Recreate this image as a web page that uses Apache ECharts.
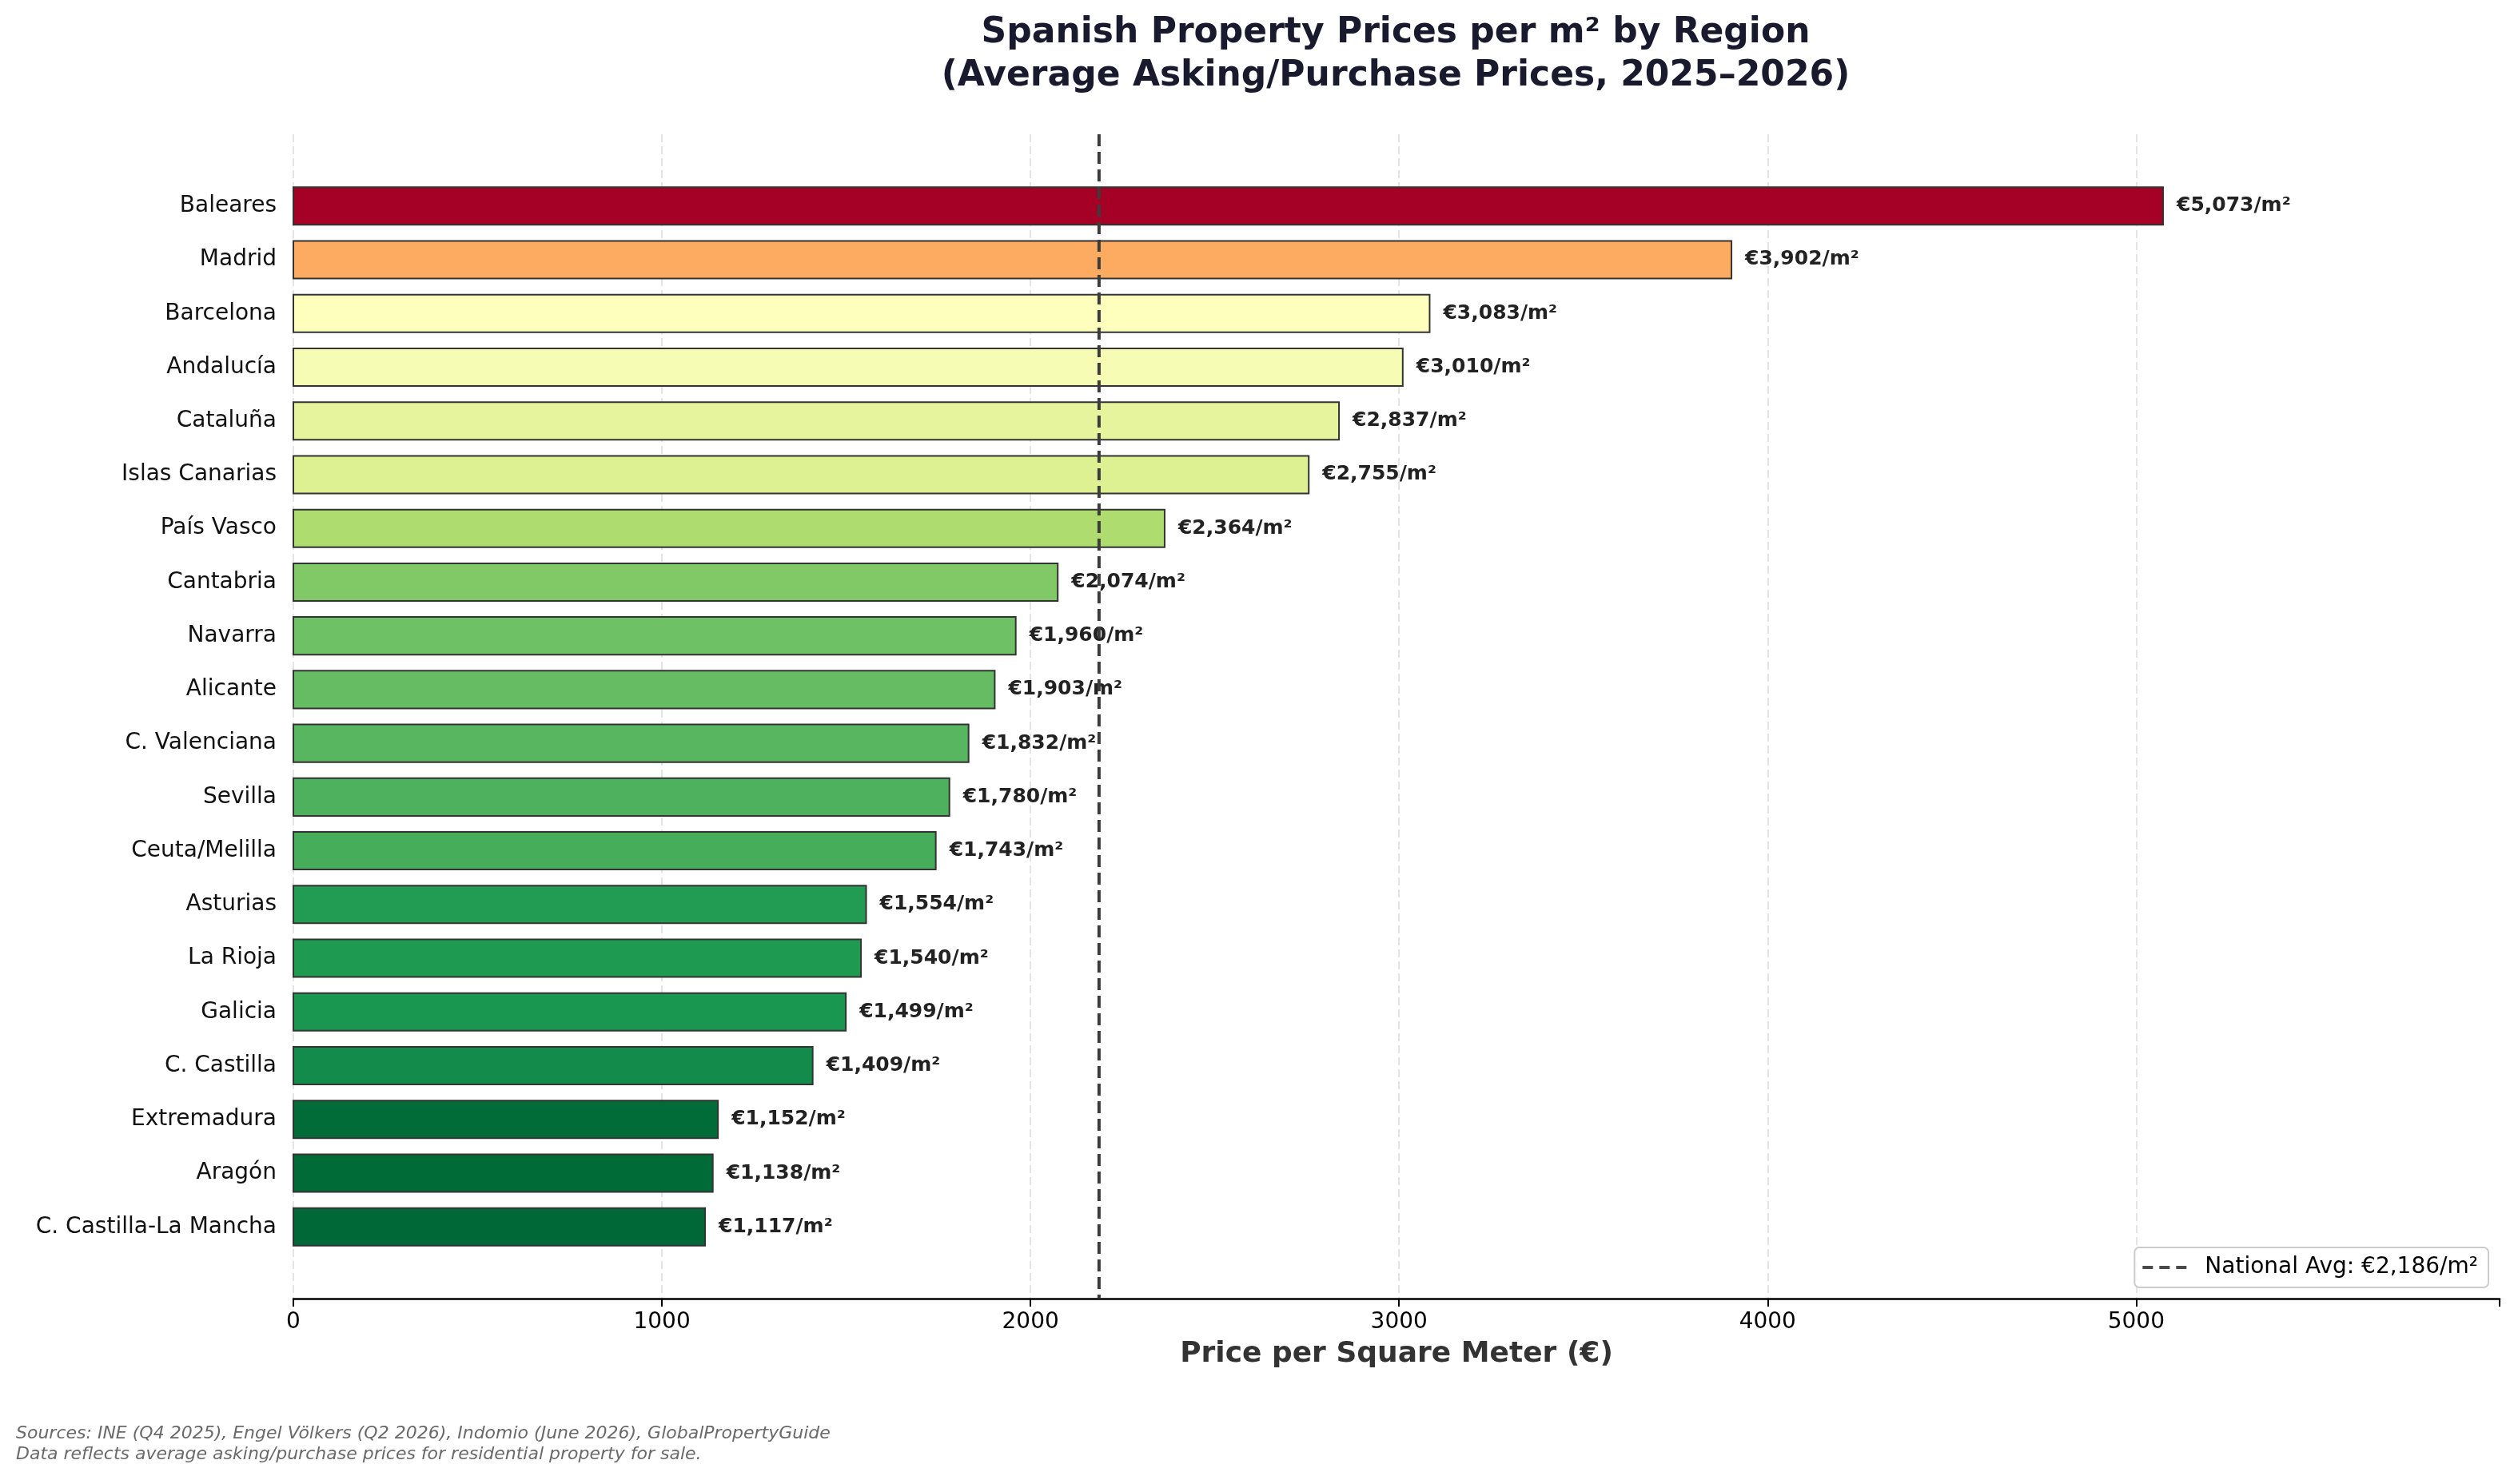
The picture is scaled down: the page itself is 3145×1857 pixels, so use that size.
<!DOCTYPE html>
<html>
<head>
<meta charset="utf-8">
<script src="https://cdn.jsdelivr.net/npm/echarts@6/dist/echarts.min.js"></script>
<style>
html,body{margin:0;padding:0;background:#fff;}
#chart{width:3145px;height:1857px;}
</style>
</head>
<body>
<div id="chart"></div>
<script>
const regions = ['Baleares','Madrid','Barcelona','Andalucía','Cataluña','Islas Canarias','País Vasco','Cantabria','Navarra','Alicante','C. Valenciana','Sevilla','Ceuta/Melilla','Asturias','La Rioja','Galicia','C. Castilla','Extremadura','Aragón','C. Castilla-La Mancha'];
const prices = [5073,3902,3083,3010,2837,2755,2364,2074,1960,1903,1832,1780,1743,1554,1540,1499,1409,1152,1138,1117];
const nationalAvg = 2186;
const xTicks = [0,1000,2000,3000,4000,5000];
const titleLines = ['Spanish Property Prices per m² by Region','(Average Asking/Purchase Prices, 2025–2026)'];
const footnoteLines = ['Sources: INE (Q4 2025), Engel Völkers (Q2 2026), Indomio (June 2026), GlobalPropertyGuide','Data reflects average asking/purchase prices for residential property for sale.'];

const FONT = '"DejaVu Sans", "Noto Sans", sans-serif';

// matplotlib RdYlGn anchors
const RdYlGn = [[0.647,0.0,0.149],[0.843,0.188,0.153],[0.957,0.427,0.263],[0.992,0.682,0.380],[0.996,0.878,0.545],[1.0,1.0,0.749],[0.851,0.937,0.545],[0.651,0.851,0.416],[0.400,0.741,0.388],[0.102,0.596,0.314],[0.0,0.408,0.216]];
function cmapRdYlGn(t){
  t = Math.max(0, Math.min(1, t));
  const p = t*10, i = Math.min(9, Math.floor(p)), f = p - i;
  const a = RdYlGn[i], b = RdYlGn[i+1];
  const c = a.map((v,k)=>Math.round((v + (b[k]-v)*f)*255));
  return 'rgb(' + c.join(',') + ')';
}
const vMin = Math.min(...prices), vMax = Math.max(...prices);
function colorOf(v){ return cmapRdYlGn(1 - (v - vMin)/(vMax - vMin)); }
function fmt(v){ return '€' + v.toLocaleString('en-US') + '/m²'; }

const n = regions.length;
const yMin = -0.35 - 0.05*(n - 1 + 0.7);
const yMax = (n - 1) + 0.35 + 0.05*(n - 1 + 0.7);
const avgName = 'National Avg: ' + fmt(nationalAvg);

const chart = echarts.init(document.getElementById('chart'), null, {renderer:'canvas'});
chart.setOption({
  backgroundColor:'#ffffff',
  animation:false,
  textStyle:{fontFamily:FONT},
  grid:{left:367, right:18, top:168, bottom:232, containLabel:false},
  xAxis:{
    type:'value', min:0, max:vMax*1.18, interval:1000,
    name:'Price per Square Meter (€)', nameLocation:'middle', nameGap:52,
    nameTextStyle:{fontFamily:FONT, fontSize:36, fontWeight:'bold', color:'#333333'},
    axisLine:{show:true, onZero:false, lineStyle:{color:'#000', width:2.5}},
    axisTick:{show:true, inside:false, length:10, lineStyle:{color:'#000', width:2}},
    axisLabel:{fontFamily:FONT, fontSize:28, color:'#000', margin:16, customValues:xTicks,
      formatter:function(v){ return String(v); }},
    splitLine:{show:true, showMaxLine:false, lineStyle:{color:'#e4e4e4', width:2, type:[10,5]}}
  },
  yAxis:{
    type:'value', inverse:true, min:yMin, max:yMax,
    axisLine:{show:false}, axisTick:{show:false}, splitLine:{show:false},
    axisLabel:{fontFamily:FONT, fontSize:28, color:'#111', margin:21,
      customValues:regions.map((r,i)=>i),
      formatter:function(v){ const i = Math.round(v); return regions[i] !== undefined ? regions[i] : ''; }}
  },
  legend:{
    data:[{name:avgName, icon:'path://M0,0h13v4h-13z M21,0h13v4h-13z M42,0h13v4h-13z'}],
    right:32, bottom:246, orient:'horizontal',
    itemWidth:55, itemHeight:4, padding:[11,13,11,10],
    borderColor:'#cccccc', borderWidth:2, borderRadius:6, backgroundColor:'rgba(255,255,255,0.85)',
    textStyle:{fontFamily:FONT, fontSize:28, color:'#000', padding:[0,0,0,18]}
  },
  series:[
    {
      type:'custom', name:'Prices',
      data:prices.map((v,i)=>[v,i]),
      encode:{x:0, y:1},
      z:2,
      renderItem:function(params, api){
        const v = api.value(0), idx = api.value(1);
        const s = api.coord([0, idx]);
        const e = api.coord([v, idx]);
        const h = api.size([0, 0.7])[1];
        return {type:'group', children:[
          {type:'rect', shape:{x:s[0], y:s[1]-h/2, width:e[0]-s[0], height:h},
           style:{fill:colorOf(v), stroke:'#333333', lineWidth:2}},
          {type:'text', z2:10, style:{text:fmt(v), x:e[0]+17, y:e[1], align:'left', verticalAlign:'middle',
            font:'bold 25px ' + FONT, fill:'#222222'}}
        ]};
      }
    },
    {
      type:'line', name:avgName, z:5,
      data:[[nationalAvg, yMin],[nationalAvg, yMax]],
      symbol:'none', silent:true,
      itemStyle:{color:'#4a4a4a'},
      lineStyle:{color:'#3c3c3c', width:4, type:[15,7]}
    }
  ],
  graphic:[
    {type:'text', x:1746, y:42, style:{text:titleLines[0], align:'center', verticalAlign:'middle', font:'bold 44px ' + FONT, fill:'#1a1a2e'}},
    {type:'text', x:1746, y:96, style:{text:titleLines[1], align:'center', verticalAlign:'middle', font:'bold 44px ' + FONT, fill:'#1a1a2e'}},
    {type:'text', x:20, y:1794, style:{text:footnoteLines[0], align:'left', verticalAlign:'middle', font:'italic 22px ' + FONT, fill:'#6a6a6a'}},
    {type:'text', x:20, y:1820, style:{text:footnoteLines[1], align:'left', verticalAlign:'middle', font:'italic 22px ' + FONT, fill:'#6a6a6a'}}
  ]
});
</script>
</body>
</html>
